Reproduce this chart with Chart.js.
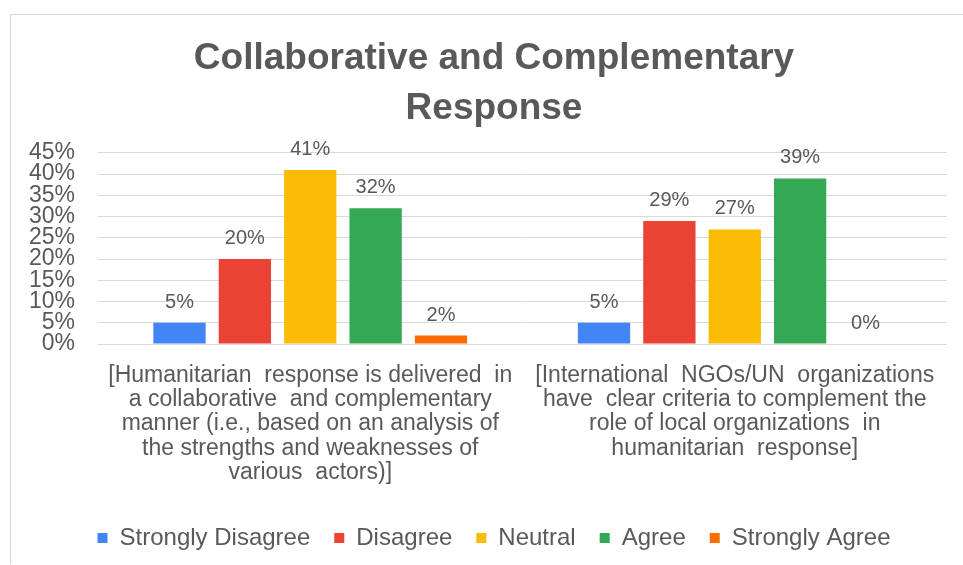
<!DOCTYPE html>
<html>
<head>
<meta charset="utf-8">
<script src="https://cdn.jsdelivr.net/npm/chart.js@4.4.0/dist/chart.umd.min.js"></script>
<style>
  html, body { margin: 0; padding: 0; background: #fff; }
  #frame {
    position: absolute; left: 10px; top: 14px; width: 960px; height: 549px;
    border-left: 1px solid #d9d9d9; border-top: 1px solid #d9d9d9;
  }
  #wrap { position: absolute; left: 0; top: 0; width: 963px; height: 565px; }
</style>
</head>
<body>
<div id="frame"></div>
<div id="wrap"><canvas id="barChart"></canvas></div>
<script>
var categories = [
    ['[Humanitarian  response is delivered  in', 'a collaborative  and complementary', 'manner (i.e., based on an analysis of', 'the strengths and weaknesses of', 'various  actors)]'],
    ['[International  NGOs/UN  organizations', 'have  clear criteria to complement the', 'role of local organizations  in', 'humanitarian  response]']
];
var seriesNames = ['Strongly Disagree', 'Disagree', 'Neutral', 'Agree', 'Strongly Agree'];
var seriesColors = ['#4285F4', '#EA4335', '#FBBC04', '#34A853', '#FF6D01'];
var stronglyDisagree = [5, 5];
var disagree = [20, 29];
var neutral = [41, 27];
var agree = [32, 39];
var stronglyAgree = [2, 0];
var yTicks = [0, 5, 10, 15, 20, 25, 30, 35, 40, 45];

var grey = '#595959';
var fontFamily = '"Liberation Sans", Arial, sans-serif';

// percent labels above each bar
var valueLabels = {
    id: 'valueLabels',
    afterDatasetsDraw: function(chart) {
        var ctx = chart.ctx;
        ctx.save();
        ctx.font = '20px ' + fontFamily;
        ctx.fillStyle = grey;
        ctx.textAlign = 'center';
        ctx.textBaseline = 'alphabetic';
        chart.data.datasets.forEach(function(ds, i) {
            chart.getDatasetMeta(i).data.forEach(function(bar, j) {
                ctx.fillText(ds.data[j] + '%', bar.x, bar.y - 15);
            });
        });
        ctx.restore();
    }
};

// y tick labels hang into the left padding, so widen their clip box
var yLabelRoom = {
    id: 'yLabelRoom',
    afterLayout: function(chart) {
        chart.scales.y.left = 0;
    }
};

var allSeries = [stronglyDisagree, disagree, neutral, agree, stronglyAgree];

var config = {
    type: 'bar',
    data: {
        labels: categories,
        datasets: allSeries.map(function(values, i) {
            return {
                label: seriesNames[i],
                data: values,
                backgroundColor: seriesColors[i],
                categoryPercentage: 0.77,
                barPercentage: 0.8
            };
        })
    },
    options: {
        responsive: true,
        maintainAspectRatio: false,
        animation: false,
        layout: {
            padding: { left: 41, right: 16, top: 34, bottom: 5 }
        },
        plugins: {
            title: {
                display: true,
                text: ['Collaborative and Complementary', 'Response'],
                color: grey,
                font: { family: fontFamily, size: 37, weight: 'bold', lineHeight: 1.35 },
                padding: { top: 0, bottom: 19 }
            },
            legend: {
                position: 'bottom',
                labels: {
                    boxWidth: 10,
                    boxHeight: 10,
                    padding: 24,
                    color: grey,
                    font: { family: fontFamily, size: 24 }
                }
            },
            tooltip: { enabled: false }
        },
        scales: {
            x: {
                grid: { display: false },
                border: { display: false },
                ticks: {
                    color: grey,
                    padding: 11,
                    maxRotation: 0,
                    autoSkip: false,
                    font: { family: fontFamily, size: 23, lineHeight: 1.06 }
                },
                afterFit: function(scale) { scale.height += 6; }
            },
            y: {
                min: yTicks[0],
                max: yTicks[yTicks.length - 1],
                grid: { color: '#d9d9d9', drawTicks: false },
                border: { display: false },
                afterBuildTicks: function(scale) {
                    scale.ticks = yTicks.map(function(v) { return { value: v }; });
                },
                afterFit: function(scale) { scale.width = 57; },
                ticks: {
                    color: grey,
                    padding: 23,
                    autoSkip: false,
                    font: { family: fontFamily, size: 23 },
                    callback: function(v) { return v + '%'; }
                }
            }
        }
    },
    plugins: [valueLabels, yLabelRoom]
};

window.onload = function() {
    var ctx = document.getElementById('barChart').getContext('2d');
    window.myBar = new Chart(ctx, config);
};
</script>
</body>
</html>
